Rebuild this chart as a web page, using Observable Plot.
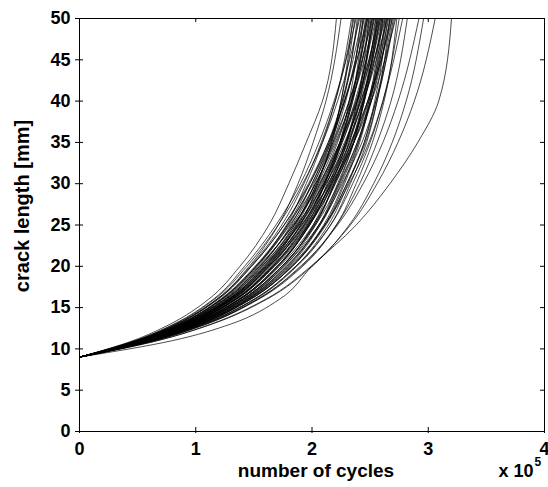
<!DOCTYPE html>
<html>
<head>
<meta charset="utf-8">
<script src="https://cdn.jsdelivr.net/npm/d3@7"></script>
<script src="https://cdn.jsdelivr.net/npm/@observablehq/plot@0.6"></script>
<style>
  html, body { margin: 0; padding: 0; background: #fff; }
  #chart svg { display: block; }
</style>
</head>
<body>
<div id="chart"></div>
<script>
// Crack length levels (mm) at which each specimen's cycle count is read
const lengthsMm = [9, 11, 13, 16, 20, 25, 30, 35, 40, 50];

// Cycle counts (thousands of cycles) per specimen, one value per crack-length level
const earlyCurves = [
  [0,46,78,111,138,163,180,195,209,221],
  [0,49,83,118,146,171,188,201,212,225]
];
const mainCurves = [
  [0,51,87,122,152,178,195,209,220,234],
  [0,55,94,133,165,190,205,217,225,235],
  [0,49,84,118,147,174,193,208,220,236],
  [0,54,91,129,160,186,202,216,225,237],
  [0,48,81,115,142,169,190,206,219,238],
  [0,54,92,130,162,187,204,217,227,239],
  [0,52,89,126,156,182,200,215,226,240],
  [0,48,82,116,144,171,192,209,222,241],
  [0,57,97,137,170,196,211,224,232,242],
  [0,51,86,122,152,179,198,214,226,243],
  [0,53,90,128,159,185,204,218,229,244],
  [0,57,98,138,171,197,213,225,234,244],
  [0,51,87,123,153,180,200,216,228,245],
  [0,56,95,134,166,193,210,224,234,246],
  [0,50,84,119,148,176,197,214,228,247],
  [0,56,95,134,167,194,211,225,235,247],
  [0,54,92,130,161,188,207,222,233,248],
  [0,50,84,119,148,176,198,215,228,248],
  [0,59,100,141,175,201,217,230,239,249],
  [0,52,88,125,155,183,203,219,232,249],
  [0,55,92,131,163,190,209,224,235,250],
  [0,59,100,142,176,203,219,232,241,251],
  [0,53,89,126,157,185,205,221,234,251],
  [0,57,97,137,170,198,215,229,239,252],
  [0,51,86,121,151,179,201,218,232,252],
  [0,57,97,138,171,198,216,230,240,253],
  [0,55,94,132,164,192,211,226,238,253],
  [0,51,86,122,152,181,203,220,234,254],
  [0,60,102,144,179,206,222,236,244,255],
  [0,53,91,128,159,188,208,225,237,255],
  [0,56,95,134,166,195,214,229,241,256],
  [0,60,102,145,180,207,223,236,245,256],
  [0,54,91,129,160,189,210,226,239,257],
  [0,58,99,140,174,202,219,234,244,257],
  [0,52,88,124,154,184,206,224,238,258],
  [0,58,99,140,174,202,220,235,245,258],
  [0,56,96,135,168,197,216,232,243,259],
  [0,52,88,125,155,184,207,224,239,259],
  [0,61,104,147,183,210,227,240,249,260],
  [0,54,92,131,162,191,212,229,242,260],
  [0,57,97,137,170,198,218,234,245,261],
  [0,61,104,147,183,211,228,241,250,261],
  [0,55,93,132,163,193,214,231,244,262],
  [0,60,101,143,178,206,224,239,250,263],
  [0,53,90,127,157,187,210,228,242,263],
  [0,60,102,144,178,207,225,240,251,264],
  [0,58,98,138,172,201,220,236,248,264],
  [0,53,90,128,158,189,212,230,244,265],
  [0,62,106,150,186,214,231,245,254,265],
  [0,56,94,134,166,196,217,234,248,266],
  [0,58,99,140,174,203,223,239,251,267],
  [0,63,107,151,187,216,233,247,256,267],
  [0,56,95,135,167,197,219,236,249,268],
  [0,61,104,146,182,211,230,245,255,269],
  [0,54,92,129,161,191,215,233,248,269],
  [0,61,104,147,183,212,230,246,256,270],
  [0,59,100,142,176,206,226,243,255,271],
  [0,55,93,131,163,194,217,236,251,272],
  [0,64,109,154,192,221,238,252,262,273]
];
const lateCurves = [
  [0,62,106,150,186,216,235,250,261,275],
  [0,61,103,145,181,211,232,249,261,278],
  [0,64,109,153,191,221,241,256,268,282],
  [0,64,108,153,190,222,244,261,274,292],
  [0,67,114,161,200,232,253,269,281,296],
  [0,67,113,160,199,233,256,274,288,306],
  [0,80,130,172,200,238,267,291,309,320]
];

// Axis ticks and labels
const xTickValues = [0, 100, 200, 300, 400];   // thousands of cycles
const xTickLabels = ["0", "1", "2", "3", "4"];
const yTickValues = [0, 5, 10, 15, 20, 25, 30, 35, 40, 45, 50];
const xLabel = "number of cycles";
const yLabel = "crack length [mm]";
const xMultiplier = "x 10";
const xExponent = "5";

const W = 548, H = 487;
const M = {top: 18, right: 4, bottom: 56, left: 79};
const frameW = W - M.left - M.right;
const frameH = H - M.top - M.bottom;

const allCurves = [...earlyCurves, ...mainCurves, ...lateCurves];
const rows = allCurves.flatMap((c, i) =>
  c.map((k, j) => ({id: i, cycles: k, length: lengthsMm[j]})));

const font = "'Liberation Sans', Arial, Helvetica, sans-serif";

const chart = Plot.plot({
  width: W,
  height: H,
  marginTop: M.top,
  marginRight: M.right,
  marginBottom: M.bottom,
  marginLeft: M.left,
  style: {fontFamily: font, fontSize: "18px", fontWeight: "bold", color: "black", background: "white", overflow: "visible"},
  x: {domain: [0, 400]},
  y: {domain: [0, 50]},
  marks: [
    Plot.line(rows, {x: "cycles", y: "length", z: "id", stroke: "black",
      strokeWidth: 0.7, curve: "monotone-y", clip: true}),
    Plot.frame({stroke: "black", strokeWidth: 1}),
    // outward tick stubs + labels
    Plot.axisX(xTickValues, {anchor: "bottom", tickSize: 2, tickPadding: 9,
      tickFormat: d => xTickLabels[xTickValues.indexOf(d)], fontSize: 18, label: null}),
    Plot.axisY(yTickValues, {anchor: "left", tickSize: 4, tickPadding: 5,
      fontSize: 18, label: null}),
    // inward ticks on all four sides
    Plot.tickX(xTickValues, {x: d => d, insetTop: frameH - 4, stroke: "black"}),
    Plot.tickX(xTickValues, {x: d => d, insetBottom: frameH - 4, stroke: "black"}),
    Plot.tickY(yTickValues, {y: d => d, insetRight: frameW - 4, stroke: "black"}),
    Plot.tickY(yTickValues, {y: d => d, insetLeft: frameW - 4, stroke: "black"}),
    // axis titles
    Plot.text([yLabel], {text: d => d, frameAnchor: "left", textAnchor: "middle",
      lineAnchor: "middle", rotate: -90, dx: -57, dy: -19, fontSize: 20, fontWeight: "bold"}),
    Plot.text([xLabel], {text: d => d, frameAnchor: "bottom", textAnchor: "middle",
      lineAnchor: "middle", dx: 4, dy: 39, fontSize: 19, fontWeight: "bold"}),
    Plot.text([xMultiplier], {text: d => d, frameAnchor: "bottom-right", textAnchor: "end",
      lineAnchor: "middle", dx: -11, dy: 40, fontSize: 18, fontWeight: "bold"}),
    Plot.text([xExponent], {text: d => d, frameAnchor: "bottom-right", textAnchor: "start",
      lineAnchor: "middle", dx: -10, dy: 31, fontSize: 12, fontWeight: "bold"})
  ]
});

document.getElementById("chart").appendChild(chart);
</script>
</body>
</html>
